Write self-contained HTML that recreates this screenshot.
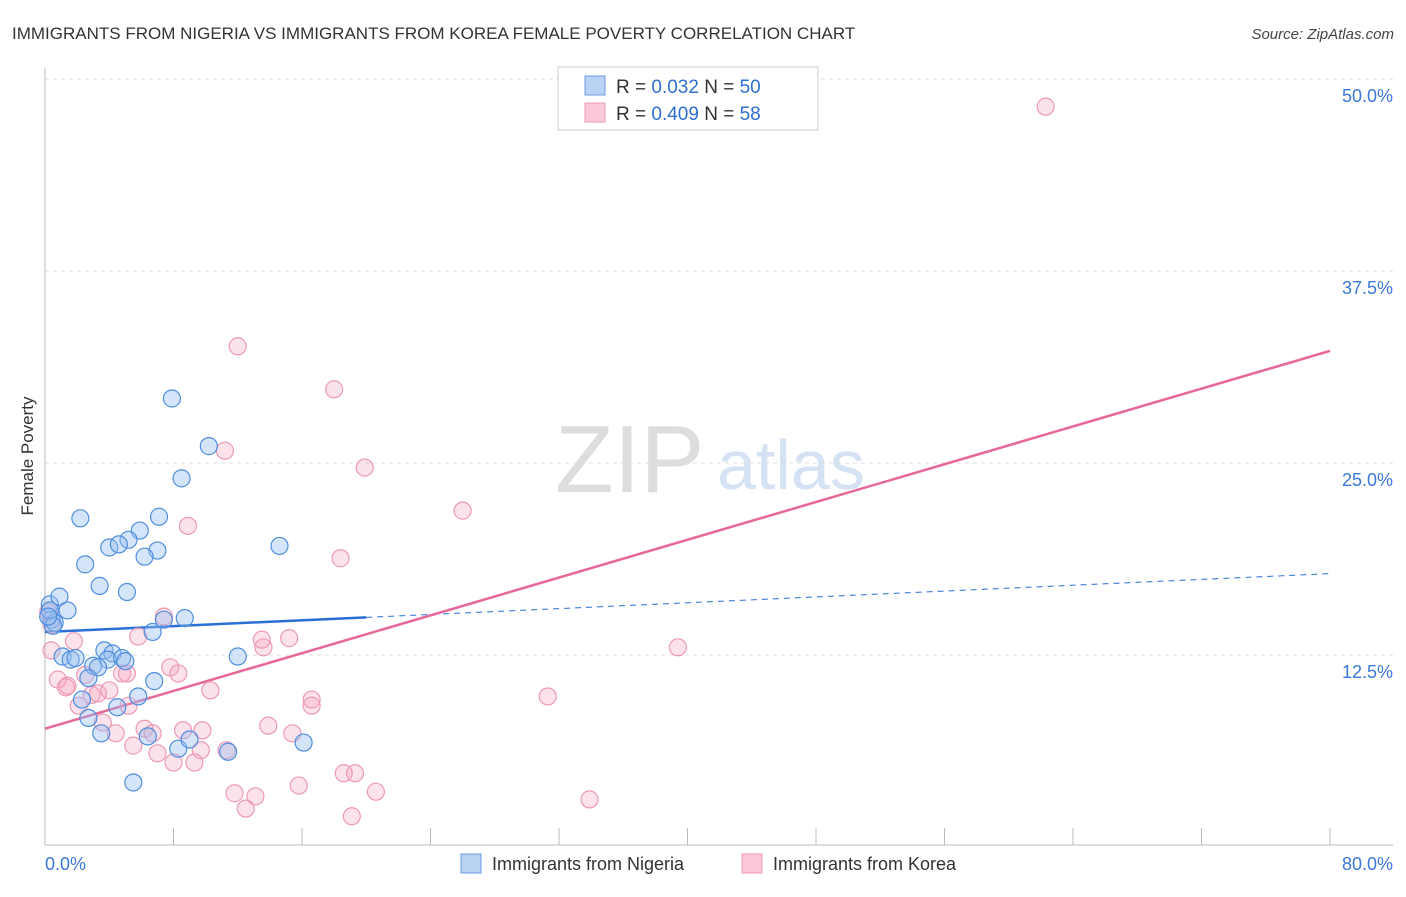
<!DOCTYPE html>
<html><head><meta charset="utf-8"><style>
body{margin:0;background:#fff;font-family:"Liberation Sans",sans-serif;}
svg text{font-family:"Liberation Sans",sans-serif;}
</style></head><body>
<svg id="chart" width="1406" height="892" xmlns="http://www.w3.org/2000/svg">
<text x="12" y="39" font-size="17" fill="#333">IMMIGRANTS FROM NIGERIA VS IMMIGRANTS FROM KOREA FEMALE POVERTY CORRELATION CHART</text>
<text x="1394" y="39" font-size="15" fill="#444" text-anchor="end" font-style="italic">Source: ZipAtlas.com</text>
<text transform="translate(33,456) rotate(-90)" font-size="17" fill="#333" text-anchor="middle">Female Poverty</text>
<g>
<text x="555" y="492" font-size="96" font-family="Liberation Serif,serif" fill="#ddd">ZIP</text>
<text x="717" y="489" font-size="70" fill="#d4e2f4">atlas</text>
</g>
<g id="grid"></g>
<g id="axes"></g>
<g id="lines"></g>
<g id="points"></g>
<g>
<rect x="558" y="67" width="260" height="63" fill="#fff" stroke="#ccc"/>
<rect x="585" y="76" width="20" height="19" fill="#b9d1f3" stroke="#6a9be0"/>
<rect x="585" y="103" width="20" height="19" fill="#fbc9d8" stroke="#ec9ab4"/>
<text x="616" y="93" font-size="19" fill="#333">R = <tspan fill="#2f6fd1">0.032</tspan>   N = <tspan fill="#2f6fd1">50</tspan></text>
<text x="616" y="120" font-size="19" fill="#333">R = <tspan fill="#2f6fd1">0.409</tspan>   N = <tspan fill="#2f6fd1">58</tspan></text>
</g>
<g>
<rect x="461" y="854" width="20" height="19" fill="#b9d1f3" stroke="#6a9be0"/>
<text x="492" y="870" font-size="18" fill="#333">Immigrants from Nigeria</text>
<rect x="742" y="854" width="20" height="19" fill="#fbc9d8" stroke="#ec9ab4"/>
<text x="773" y="870" font-size="18" fill="#333">Immigrants from Korea</text>
</g>
</svg>
<script>
const yTicks=[12.5,25,37.5,50];
const yTickLabels=["12.5%","25.0%","37.5%","50.0%"];
const xTickLabels=["0.0%","80.0%"];
const nigeriaX=[7.9,10.2,8.5,2.2,7.1,5.9,5.2,4.0,4.6,7.0,6.2,14.6,2.5,3.4,5.1,0.3,0.9,1.4,0.4,0.6,7.4,8.7,6.7,1.1,1.6,1.9,3.7,4.2,3.9,4.8,5.0,3.0,3.3,2.7,6.8,12.0,2.3,5.8,4.5,2.7,3.5,6.4,8.3,9.0,11.4,16.1,5.5,0.3,0.5,0.2];
const nigeriaY=[29.2,26.1,24.0,21.4,21.5,20.6,20.0,19.5,19.7,19.3,18.9,19.6,18.4,17.0,16.6,15.8,16.3,15.4,14.8,14.6,14.8,14.9,14.0,12.4,12.2,12.3,12.8,12.6,12.2,12.3,12.1,11.8,11.7,11.0,10.8,12.4,9.6,9.8,9.1,8.4,7.4,7.2,6.4,7.0,6.2,6.8,4.2,15.4,14.4,15.0];
const koreaX=[62.3,12.0,18.0,11.2,19.9,26.0,8.9,18.4,39.4,31.3,7.4,5.8,15.2,13.6,1.8,0.4,0.8,1.4,2.9,3.3,2.5,4.0,4.8,5.1,7.8,8.3,10.3,16.6,16.6,13.9,15.4,2.1,3.6,5.2,4.4,6.2,6.7,8.6,9.8,5.5,7.0,8.0,9.3,9.7,11.3,11.8,13.1,12.5,15.8,18.6,19.3,19.1,20.6,33.9,0.4,0.2,1.3,13.5];
const koreaY=[48.2,32.6,29.8,25.8,24.7,21.9,20.9,18.8,13.0,9.8,15.0,13.7,13.6,13.0,13.4,12.8,10.9,10.5,9.9,10.0,11.2,10.2,11.3,11.3,11.7,11.3,10.2,9.6,9.2,7.9,7.4,9.2,8.1,9.2,7.4,7.7,7.4,7.6,7.6,6.6,6.1,5.5,5.5,6.3,6.3,3.5,3.3,2.5,4.0,4.8,4.8,2.0,3.6,3.1,14.5,15.3,10.4,13.5];
const nigeriaTrend=[14.0,17.8]; // at x=0, x=80
const koreaTrend=[7.7,32.3];
const NS="http://www.w3.org/2000/svg";
const X0=45,X1=1330,Y0=847,PXY=15.36;
function sx(v){return X0+(v/80)*(X1-X0);}
function sy(v){return Y0-v*PXY;}
function mk(tag,attrs,parent){const e=document.createElementNS(NS,tag);for(const k in attrs)e.setAttribute(k,attrs[k]);parent.appendChild(e);return e;}
const grid=document.getElementById('grid'),axes=document.getElementById('axes'),lines=document.getElementById('lines'),pts=document.getElementById('points');
yTicks.forEach((t,i)=>{
 const l=mk('line',{x1:45,x2:1393,y1:sy(t),y2:sy(t),stroke:'#ddd','stroke-dasharray':'4,4'},grid);
 
 
 const tx=mk('text',{x:1393,y:sy(t)+23,'font-size':18,fill:'#3b78d8','text-anchor':'end'},grid);
 tx.textContent=yTickLabels[i];
 
 
});
const ya=mk('line',{x1:45,x2:45,y1:68,y2:845,stroke:'#bbb'},axes);


const xa=mk('line',{x1:45,x2:1393,y1:845,y2:845,stroke:'#bbb'},axes);


for(let i=0;i<=10;i++){
 const v=i*8;
 const t=mk('line',{x1:sx(v),x2:sx(v),y1:828,y2:845,stroke:'#bbb'},axes);
 
 
}
const xl0=mk('text',{x:45,y:870,'font-size':18,fill:'#3b78d8'},axes);xl0.textContent=xTickLabels[0];


const xl1=mk('text',{x:1393,y:870,'font-size':18,fill:'#3b78d8','text-anchor':'end'},axes);xl1.textContent=xTickLabels[1];


function drawPts(xs,ys,fill,stroke,name){
 xs.forEach((x,i)=>{
  const c=mk('circle',{cx:sx(x),cy:sy(ys[i]),r:8.5,fill:fill,stroke:stroke,'stroke-width':1.2},pts);
  
  
 });
}
drawPts(koreaX,koreaY,'rgba(245,160,190,0.3)','#ec9ab4','point-korea');
drawPts(nigeriaX,nigeriaY,'rgba(150,190,240,0.4)','#4f8ede','point-nigeria');
const bx=20;
const by=nigeriaTrend[0]+(nigeriaTrend[1]-nigeriaTrend[0])*bx/80;
const n1=mk('line',{x1:sx(0),y1:sy(nigeriaTrend[0]),x2:sx(bx),y2:sy(by),stroke:'#2a6fd6','stroke-width':2.5},lines);


const n2=mk('line',{x1:sx(bx),y1:sy(by),x2:sx(80),y2:sy(nigeriaTrend[1]),stroke:'#2a6fd6','stroke-width':1,'stroke-dasharray':'6,5'},lines);


const k1=mk('line',{x1:sx(0),y1:sy(koreaTrend[0]),x2:sx(80),y2:sy(koreaTrend[1]),stroke:'#e8679a','stroke-width':2.5},lines);


</script>
</body></html>
